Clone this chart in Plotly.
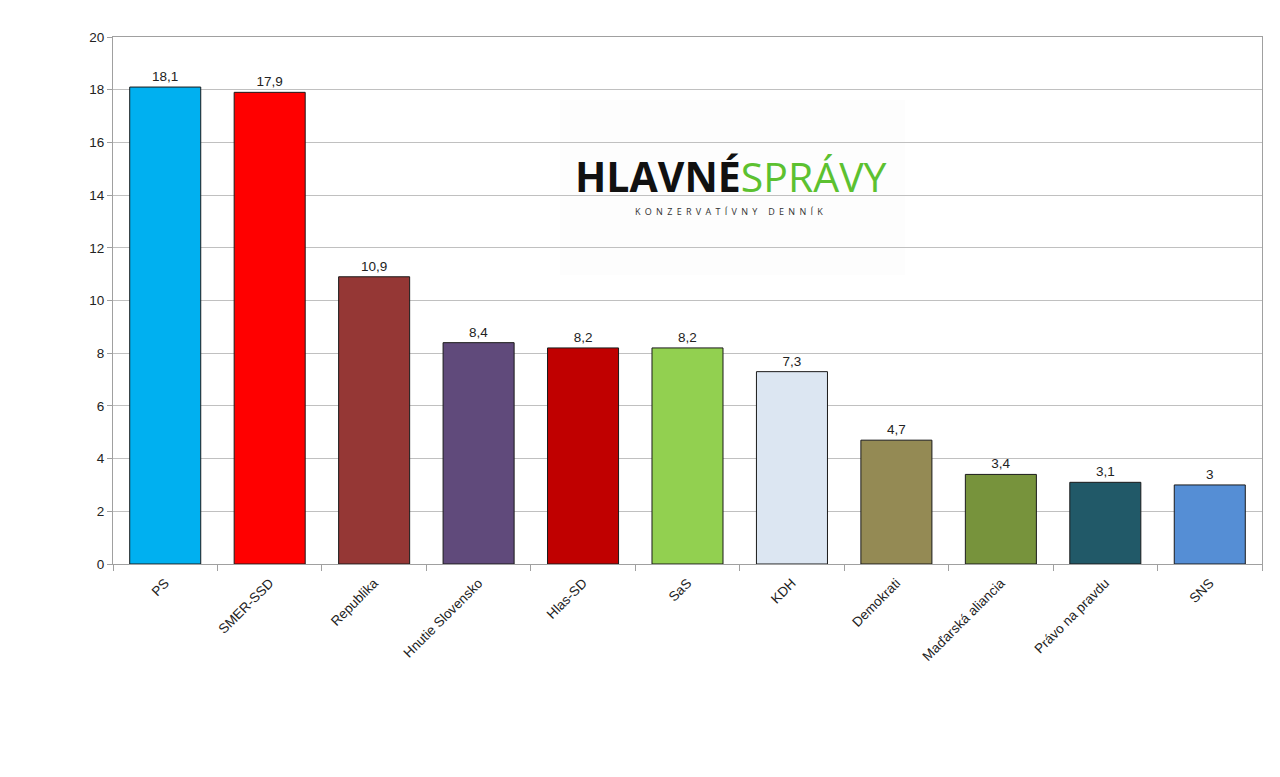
import plotly.graph_objects as go

parties = ["PS", "SMER-SSD", "Republika", "Hnutie Slovensko", "Hlas-SD", "SaS",
           "KDH", "Demokrati", "Maďarská aliancia", "Právo na pravdu", "SNS"]
values = [18.1, 17.9, 10.9, 8.4, 8.2, 8.2, 7.3, 4.7, 3.4, 3.1, 3]
colors = ["#00B0F0", "#FF0000", "#953735", "#604A7B", "#C00000", "#92D050",
          "#DCE6F2", "#948A54", "#77933C", "#215968", "#558ED5"]
y_ticks = [0, 2, 4, 6, 8, 10, 12, 14, 16, 18, 20]

labels = [f"{v:g}".replace(".", ",") for v in values]

fig = go.Figure()
fig.add_trace(go.Bar(
    x=parties, y=values,
    marker=dict(color=colors, line=dict(color="#1a1a1a", width=1)),
    text=labels, textposition="outside", cliponaxis=False,
    textfont=dict(family="Liberation Sans, Arial", size=13.5, color="#222222"),
    hoverinfo="x+y",
))

GRID = "#c0c0c0"
# plot area in the page: x 113..1262, y 37..564 (page has an 8px body margin)
fig.update_layout(
    width=1280, height=777,
    margin=dict(l=105, r=26, t=29, b=221),
    paper_bgcolor="white", plot_bgcolor="white",
    bargap=0.32, showlegend=False,
    font=dict(family="Liberation Sans, Arial", size=12, color="#222222"),
    xaxis=dict(
        tickangle=-45, tickson="boundaries", ticks="outside", ticklen=6,
        tickcolor="#a0a0a0", showline=True, linecolor="#a0a0a0", linewidth=1,
        mirror=True, showgrid=False, ticklabelstandoff=5,
        tickfont=dict(family="Liberation Sans, Arial", size=13.5, color="#222222"),
    ),
    yaxis=dict(
        range=[0, 20], tickvals=y_ticks, ticktext=[str(t) for t in y_ticks],
        ticks="outside", ticklen=5, tickcolor="#a0a0a0",
        showline=True, linecolor="#a0a0a0", linewidth=1, mirror=True,
        showgrid=True, gridcolor=GRID, gridwidth=1, zeroline=False,
        tickfont=dict(family="Liberation Sans, Arial", size=13.5, color="#222222"),
    ),
    shapes=[dict(type="rect", xref="paper", yref="paper",
                 x0=(560 - 113) / 1149, x1=(905 - 113) / 1149,
                 y0=(564 - 275) / 527, y1=(564 - 100) / 527,
                 fillcolor="#fdfdfd", line=dict(width=0), layer="between")],
    annotations=[
        dict(xref="paper", yref="paper", x=(731 - 113) / 1149, y=(564 - 176) / 527,
             text="<b>HLAVNÉ</b><span style='color:#5cc130'>SPRÁVY</span>",
             showarrow=False, xanchor="center", yanchor="middle",
             font=dict(family="Open Sans", size=41, color="#111111")),
        dict(xref="paper", yref="paper", x=(731 - 113) / 1149, y=(564 - 211) / 527,
             text="<span style='letter-spacing:4.3px'>KONZERVATÍVNY DENNÍK</span>",
             showarrow=False, xanchor="center", yanchor="middle",
             font=dict(family="Open Sans", size=9, color="#333333")),
    ],
)

fig.write_html("out.html")
